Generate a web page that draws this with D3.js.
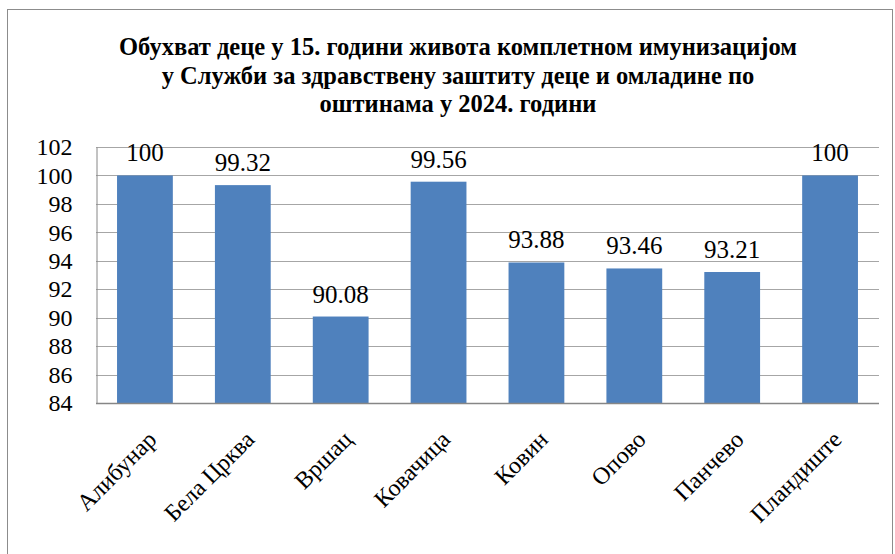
<!DOCTYPE html>
<html><head><meta charset="utf-8">
<script src="https://cdn.jsdelivr.net/npm/d3@7/dist/d3.min.js"></script>
<style>body{margin:0;background:#fff}svg{display:block}
text{font-family:"Liberation Serif","Times New Roman","DejaVu Serif",serif}</style>
</head><body>
<svg id="c" width="895" height="554"></svg>
<script>
const categories = ["Алибунар","Бела Црква","Вршац","Ковачица","Ковин","Опово","Панчево","Пландиште"];
const values = [100, 99.32, 90.08, 99.56, 93.88, 93.46, 93.21, 100];
const valueLabels = ["100","99.32","90.08","99.56","93.88","93.46","93.21","100"];
const yTicks = [84,86,88,90,92,94,96,98,100,102];
const titleLines = ["Обухват деце у 15. години живота комплетном имунизацијом","у Служби за здравствену заштиту деце и омладине по","оштинама у 2024. години"];

const svg = d3.select("#c");
const W = 895, H = 554;
const m = {left:96, right:16, top:147, bottom:151};
const x = d3.scaleBand().domain(categories).range([m.left, W-m.right]).paddingInner(0.43).paddingOuter(0.215);
const y = d3.scaleLinear().domain([84,102]).range([H-m.bottom, m.top]);

svg.append("rect").attr("x",7.5).attr("y",9.5).attr("width",885).attr("height",560)
  .attr("fill","none").attr("stroke","#8c8c8c").attr("stroke-width",1);

const t = svg.append("text").attr("text-anchor","middle")
  .attr("font-weight","bold").attr("font-size",24.5).attr("fill","#000");
titleLines.forEach((l,i)=>t.append("tspan").attr("x",458).attr("y",55+i*28.5).text(l));

svg.append("g").selectAll("line").data(yTicks).join("line")
  .attr("x1",m.left).attr("x2",W-m.right).attr("y1",d=>Math.round(y(d))+0.5).attr("y2",d=>Math.round(y(d))+0.5)
  .attr("stroke","#a6a6a6").attr("stroke-width",1);

svg.append("g").selectAll("rect").data(values).join("rect")
  .attr("x",(d,i)=>x(categories[i])).attr("width",x.bandwidth())
  .attr("y",d=>y(d)).attr("height",d=>y(84)-y(d))
  .attr("fill","#4F81BD");

const ya = d3.axisLeft(y).tickValues(yTicks).tickSize(0).tickPadding(24).tickFormat(d3.format("d"));
const gy = svg.append("g").attr("transform",`translate(${m.left+0.5},0)`).call(ya);
gy.attr("font-family",null);
gy.select(".domain").attr("stroke","#868686");
gy.selectAll("text").attr("font-size",24).attr("fill","#000");

svg.append("line").attr("x1",m.left).attr("x2",W-m.right).attr("y1",Math.round(y(84))+0.5).attr("y2",Math.round(y(84))+0.5)
  .attr("stroke","#868686").attr("stroke-width",1.5);

const gx = svg.append("g").attr("transform",`translate(0,${y(84)})`).call(d3.axisBottom(x).tickSize(0).tickPadding(0));
gx.attr("font-family",null);
gx.select(".domain").remove();
gx.selectAll("text").attr("font-size",24).attr("fill","#000")
  .attr("text-anchor","end").attr("dy",0)
  .attr("transform","translate(13,38) rotate(-45)");

svg.append("g").selectAll("text").data(values).join("text")
  .attr("x",(d,i)=>x(categories[i])+x.bandwidth()/2).attr("y",d=>y(d)-14)
  .attr("text-anchor","middle").attr("font-size",25)
  .text((d,i)=>valueLabels[i]);
</script>
</body></html>
